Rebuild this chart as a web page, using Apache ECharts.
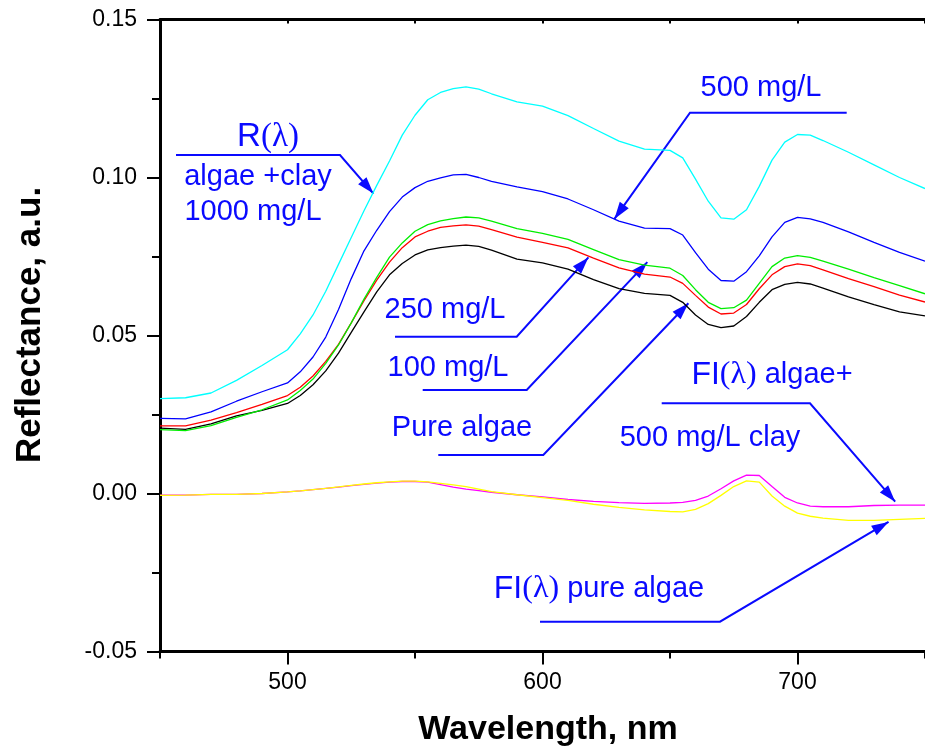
<!DOCTYPE html>
<html>
<head>
<meta charset="utf-8">
<title>Reflectance spectra</title>
<script src="https://cdn.jsdelivr.net/npm/echarts@6/dist/echarts.min.js"></script>
<style>
  html, body { margin: 0; padding: 0; background: #fff; }
  #chart { width: 925px; height: 752px; }
</style>
</head>
<body>
<div id="chart"></div>
<script>
// Wavelength grid (nm) shared by all spectra
const wavelengths = [450,460,470,480,490,500,505,510,515,520,525,530,535,540,545,550,555,560,565,570,575,580,590,600,610,620,630,640,650,655,660,665,670,675,680,685,690,695,700,705,710,720,730,740,750];

// R(λ): algae + clay 1000 mg/L
const refl1000 = [0.0300,0.0303,0.0318,0.0358,0.0405,0.0455,0.0505,0.0565,0.0640,0.0725,0.0810,0.0895,0.0975,0.1052,0.1134,0.1197,0.1246,0.1269,0.1281,0.1287,0.1280,0.1265,0.1239,0.1226,0.1196,0.1155,0.1115,0.1090,0.1086,0.1062,0.0995,0.0925,0.0872,0.0868,0.0898,0.0972,0.1055,0.1112,0.1136,0.1134,0.1117,0.1080,0.1040,0.1000,0.0965];
// R(λ): algae + clay 500 mg/L
const refl500 = [0.0238,0.0236,0.0258,0.0292,0.0322,0.0350,0.0385,0.0432,0.0495,0.0582,0.0680,0.0768,0.0833,0.0892,0.0938,0.0968,0.0988,0.0999,0.1008,0.1010,0.1000,0.0988,0.0970,0.0955,0.0932,0.0898,0.0862,0.0840,0.0838,0.0818,0.0762,0.0710,0.0674,0.0672,0.0702,0.0752,0.0812,0.0858,0.0874,0.0869,0.0858,0.0828,0.0795,0.0763,0.0735];
// R(λ): algae + clay 100 mg/L
const refl100 = [0.0202,0.0199,0.0215,0.0241,0.0265,0.0296,0.0326,0.0362,0.0412,0.0470,0.0540,0.0615,0.0684,0.0748,0.0793,0.0830,0.0851,0.0863,0.0870,0.0875,0.0872,0.0862,0.0838,0.0823,0.0804,0.0772,0.0740,0.0723,0.0713,0.0690,0.0645,0.0605,0.0585,0.0588,0.0612,0.0665,0.0718,0.0745,0.0753,0.0747,0.0735,0.0710,0.0683,0.0658,0.0632];
// R(λ): algae + clay 250 mg/L
const refl250 = [0.0214,0.0214,0.0232,0.0256,0.0282,0.0310,0.0336,0.0372,0.0418,0.0472,0.0540,0.0610,0.0675,0.0732,0.0778,0.0812,0.0830,0.0842,0.0847,0.0850,0.0846,0.0835,0.0811,0.0795,0.0777,0.0745,0.0714,0.0694,0.0685,0.0665,0.0627,0.0590,0.0568,0.0571,0.0598,0.0648,0.0692,0.0718,0.0727,0.0721,0.0708,0.0680,0.0655,0.0628,0.0606];
// R(λ): pure algae
const reflPure = [0.0207,0.0203,0.0220,0.0246,0.0263,0.0285,0.0310,0.0344,0.0388,0.0444,0.0510,0.0575,0.0638,0.0692,0.0728,0.0755,0.0771,0.0778,0.0783,0.0786,0.0782,0.0770,0.0742,0.0730,0.0710,0.0677,0.0648,0.0633,0.0627,0.0605,0.0565,0.0535,0.0525,0.0530,0.0560,0.0605,0.0645,0.0662,0.0668,0.0663,0.0650,0.0622,0.0598,0.0575,0.0562];
// Fl(λ): algae + 500 mg/L clay
const fluorClay = [-0.0005,-0.0005,-0.0003,-0.0003,0.0000,0.0005,0.0008,0.0012,0.0016,0.0020,0.0025,0.0029,0.0033,0.0036,0.0038,0.0038,0.0036,0.0028,0.0020,0.0014,0.0009,0.0004,-0.0004,-0.0011,-0.0019,-0.0025,-0.0029,-0.0031,-0.0030,-0.0028,-0.0022,-0.0008,0.0015,0.0040,0.0058,0.0057,0.0022,-0.0012,-0.0030,-0.0040,-0.0042,-0.0042,-0.0038,-0.0037,-0.0037];
// Fl(λ): pure algae
const fluorPure = [-0.0006,-0.0005,-0.0003,-0.0003,0.0000,0.0005,0.0008,0.0012,0.0016,0.0021,0.0026,0.0030,0.0034,0.0037,0.0039,0.0039,0.0037,0.0032,0.0027,0.0022,0.0014,0.0006,-0.0004,-0.0013,-0.0022,-0.0034,-0.0044,-0.0052,-0.0057,-0.0058,-0.0050,-0.0032,-0.0006,0.0022,0.0040,0.0036,-0.0008,-0.0040,-0.0062,-0.0072,-0.0078,-0.0085,-0.0085,-0.0082,-0.0079];

// Axis ticks
const yTicks = [-0.05, 0.00, 0.05, 0.10, 0.15];
const xMajorTicks = [500, 600, 700];
const xMinorTicks = [450, 550, 650, 750];

// Points on the curves that the callout arrows point at: [nm, value]
const arrowTargets = {
  c1000: [533.7, 0.0949],
  c500: [628.2, 0.0869],
  c250: [618.0, 0.0747],
  c100: [641.1, 0.0732],
  cPure: [657.2, 0.0602],
  fClay: [738.3, -0.0026],
  fPure: [735.7, -0.0090]
};

const FONT = '"Liberation Sans", Arial, Helvetica, sans-serif';
const SERIF = '"Liberation Serif", "Times New Roman", serif';
const BLUE = '#0a0aff';

function pairs(vals) { return wavelengths.map((w, i) => [w, vals[i]]); }

const chart = echarts.init(document.getElementById('chart'), null, { renderer: 'canvas' });

function lineSeries(name, vals, color) {
  return {
    name, type: 'line', data: pairs(vals), xAxisIndex: 0, yAxisIndex: 0,
    showSymbol: false, smooth: false,
    lineStyle: { color, width: 1.3 }, itemStyle: { color },
    emphasis: { disabled: true }, silent: true
  };
}

chart.setOption({
  animation: false,
  backgroundColor: '#fff',
  grid: { left: 160, right: -12, top: 19.5, bottom: 100.5, containLabel: false },
  xAxis: [
    {
      type: 'value', position: 'bottom', min: 450, max: 750, interval: 50,
      axisLine: { show: true, onZero: false, lineStyle: { color: '#000', width: 3 } },
      axisTick: { show: true, inside: false, length: 13, customValues: xMajorTicks, lineStyle: { color: '#000', width: 2 } },
      axisLabel: { show: true, customValues: xMajorTicks, margin: 20, color: '#000', fontSize: 23, fontFamily: FONT },
      splitLine: { show: false }
    },
    {
      type: 'value', position: 'bottom', min: 450, max: 750, interval: 50,
      axisLine: { show: false, onZero: false },
      axisTick: { show: true, inside: false, length: 7, customValues: xMinorTicks, lineStyle: { color: '#000', width: 2 } },
      axisLabel: { show: false },
      splitLine: { show: false }
    },
    {
      type: 'value', position: 'top', min: 450, max: 750, interval: 50,
      axisLine: { show: true, onZero: false, lineStyle: { color: '#000', width: 3 } },
      axisTick: { show: true, inside: true, length: 4, lineStyle: { color: '#000', width: 2 } },
      axisLabel: { show: false },
      splitLine: { show: false }
    }
  ],
  yAxis: [
    {
      type: 'value', position: 'left', min: -0.05, max: 0.15, interval: 0.05,
      axisLine: { show: true, onZero: false, lineStyle: { color: '#000', width: 3 } },
      axisTick: { show: true, inside: false, length: 13, customValues: yTicks, lineStyle: { color: '#000', width: 2 } },
      minorTick: { show: true, splitNumber: 2, length: 8, lineStyle: { color: '#000', width: 2 } },
      axisLabel: { customValues: yTicks, margin: 23, color: '#000', fontSize: 23, fontFamily: FONT,
        formatter: v => v.toFixed(2) },
      splitLine: { show: false }, minorSplitLine: { show: false }
    }
  ],
  series: [
    lineSeries('Fl(λ) algae+500 mg/L clay', fluorClay, '#ff00ff'),
    lineSeries('Fl(λ) pure algae', fluorPure, '#ffff00'),
    lineSeries('Pure algae', reflPure, '#000000'),
    lineSeries('250 mg/L', refl250, '#ff0000'),
    lineSeries('100 mg/L', refl100, '#00ee00'),
    lineSeries('500 mg/L', refl500, '#0000ff'),
    lineSeries('1000 mg/L', refl1000, '#00ffff')
  ]
});

// Callouts: label text, underline, and leader line ending in an arrowhead
function toPx(p) { return chart.convertToPixel({ xAxisIndex: 0, yAxisIndex: 0 }, p); }

function arrowHead(from, tip) {
  const dx = tip[0] - from[0], dy = tip[1] - from[1];
  const len = Math.hypot(dx, dy), ux = dx / len, uy = dy / len;
  const L = 17, W = 5.5;
  const bx = tip[0] - ux * L, by = tip[1] - uy * L;
  return {
    type: 'polygon', silent: true,
    shape: { points: [tip, [bx - uy * W, by + ux * W], [bx + uy * W, by - ux * W]] },
    style: { fill: BLUE }
  };
}

function leader(points, tip) {
  const all = points.concat([tip]);
  return [
    { type: 'polyline', silent: true, shape: { points: all }, style: { stroke: BLUE, lineWidth: 2, fill: null } },
    arrowHead(all[all.length - 2], tip)
  ];
}

function label(text, x, y, size) {
  return { type: 'text', x, y, silent: true,
    style: { text, fill: BLUE, font: (size || 29) + 'px ' + FONT, align: 'center', verticalAlign: 'middle' } };
}

function richLabel(text, x, y, size) {
  return { type: 'text', x, y, silent: true,
    style: {
      text, align: 'center', verticalAlign: 'middle',
      rich: {
        s: { font: size + 'px ' + FONT, fill: BLUE },
        g: { font: size + 'px ' + SERIF, fill: BLUE },
        t: { font: '29px ' + FONT, fill: BLUE }
      }
    } };
}

const g = [];
// R(λ) algae + clay 1000 mg/L
g.push(richLabel('{s|R}{g|(λ)}', 268, 137, 33));
g.push(label('algae +clay', 258, 177));
g.push(label('1000 mg/L', 253, 212));
g.push(...leader([[176, 155], [340, 155]], toPx(arrowTargets.c1000)));
// 500 mg/L
g.push(label('500 mg/L', 761, 88));
g.push(...leader([[846.7, 112.7], [690, 112.7]], toPx(arrowTargets.c500)));
// 250 mg/L
g.push(label('250 mg/L', 445, 310));
g.push(...leader([[395, 336.7], [516.7, 336.7]], toPx(arrowTargets.c250)));
// 100 mg/L
g.push(label('100 mg/L', 448, 368));
g.push(...leader([[422.7, 390], [526.7, 390]], toPx(arrowTargets.c100)));
// Pure algae
g.push(label('Pure algae', 462, 428));
g.push(...leader([[438.3, 455], [543.3, 455]], toPx(arrowTargets.cPure)));
// Fl(λ) algae + 500 mg/L clay
g.push(richLabel('{s|FI}{g|(λ)}{t| algae+}', 772, 375, 32));
g.push(label('500 mg/L clay', 710, 438));
g.push(...leader([[661.7, 403.3], [810, 403.3]], toPx(arrowTargets.fClay)));
// Fl(λ) pure algae
g.push(richLabel('{s|FI}{g|(λ)}{t| pure algae}', 599, 589, 32));
g.push(...leader([[540, 621.7], [720, 621.7]], toPx(arrowTargets.fPure)));

// Axis titles
g.push({ type: 'text', x: 548, y: 730, silent: true,
  style: { text: 'Wavelength, nm', fill: '#000', font: 'bold 34px ' + FONT, align: 'center', verticalAlign: 'middle' } });
g.push({ type: 'text', x: 30, y: 325, rotation: Math.PI / 2, silent: true,
  style: { text: 'Reflectance, a.u.', fill: '#000', font: 'bold 35px ' + FONT, align: 'center', verticalAlign: 'middle' } });

chart.setOption({ graphic: g });
</script>
</body>
</html>
